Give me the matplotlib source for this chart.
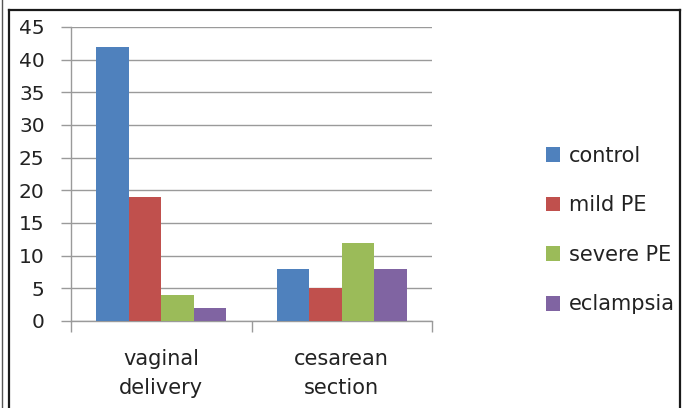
import matplotlib.pyplot as plt
import numpy as np
from matplotlib.lines import Line2D

plt.rcParams['font.family'] = ['DejaVu Sans']

categories = ["vaginal\ndelivery", "cesarean\nsection"]
groups = ["control", "mild PE", "severe PE", "eclampsia"]
control = [42, 8]
mild_pe = [19, 5]
severe_pe = [4, 12]
eclampsia = [2, 8]
colors = ["#4F81BD", "#C0504D", "#9BBB59", "#8064A2"]

W, H = 683, 408
fig = plt.figure(figsize=(W / 100, H / 100), dpi=100)
ax = fig.add_axes([71 / W, 1 - 321 / H, (432 - 71) / W, (321 - 27) / H])

x = np.arange(len(categories))
bw = 0.18
series = [control, mild_pe, severe_pe, eclampsia]
for i, (vals, name, c) in enumerate(zip(series, groups, colors)):
    ax.bar(x + (i - 1.5) * bw, vals, bw, color=c, label=name, zorder=3)

ax.set_xlim(-0.5, 1.5)
ax.set_ylim(0, 45)
ax.set_yticks(range(0, 46, 5))
ax.yaxis.grid(True, color="#9a9a9a", linewidth=1.0, zorder=0)
ax.tick_params(axis="y", labelsize=14.5, colors="#9a9a9a", labelcolor="#222222",
               length=7, width=1.0, pad=12)

# category labels centred, ticks on category boundaries
ax.set_xticks([-0.5, 0.5, 1.5])
ax.set_xticklabels([])
ax.set_xticks(x, minor=True)
ax.set_xticklabels(categories, minor=True, fontsize=15, color="#222222",
                   linespacing=1.55)
ax.tick_params(axis="x", which="major", colors="#9a9a9a", length=8, width=1.0)
ax.tick_params(axis="x", which="minor", length=0, pad=20)

for s in ["top", "right"]:
    ax.spines[s].set_visible(False)
for s in ["left", "bottom"]:
    ax.spines[s].set_color("#9a9a9a")
    ax.spines[s].set_linewidth(1.0)

leg = fig.legend(loc="upper left", bbox_to_anchor=(527 / W, 1 - 127 / H),
                 frameon=False, fontsize=15, handlelength=0.7, handleheight=0.7,
                 handletextpad=0.4, labelspacing=1.42)
for t in leg.get_texts():
    t.set_color("#222222")

# outer frame lines
def fl(x0, y0, x1, y1, lw=1.6, c="#1a1a1a"):
    fig.add_artist(Line2D([x0 / W, x1 / W], [1 - y0 / H, 1 - y1 / H],
                          color=c, linewidth=lw, transform=fig.transFigure))

fl(9, 10, 680, 10)
fl(9, 10, 9, 408)
fl(679.5, 10, 679.5, 408)
fl(1.5, 0, 1.5, 408, lw=1.0, c="#555555")

fig.savefig("out.png", dpi=100)
